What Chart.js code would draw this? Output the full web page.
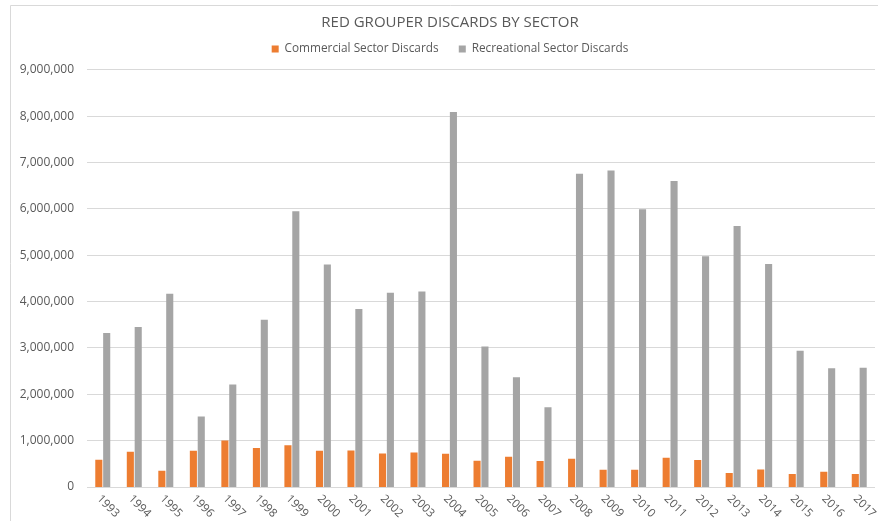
<!DOCTYPE html>
<html>
<head>
<meta charset="utf-8">
<script src="https://cdn.jsdelivr.net/npm/chart.js@4.4.1/dist/chart.umd.min.js"></script>
<style>
  html, body { margin: 0; padding: 0; background: #fff; overflow: hidden; }
  #wrap { position: relative; width: 890px; height: 521px; }
</style>
</head>
<body>
<div id="wrap"><canvas id="myChart"></canvas></div>
<script>
const years = ['1993','1994','1995','1996','1997','1998','1999','2000','2001','2002','2003','2004','2005',
  '2006','2007','2008','2009','2010','2011','2012','2013','2014','2015','2016','2017'];

const commercial = [590000, 760000, 350000, 780000, 1005000, 840000, 900000, 780000, 790000, 720000, 745000, 717000, 565000,
  650000, 560000, 610000, 370000, 370000, 630000, 580000, 300000, 375000, 280000, 330000, 280000];

const recreational = [3320000, 3450000, 4170000, 1520000, 2210000, 3610000, 5950000, 4800000, 3840000, 4190000, 4220000, 8090000, 3030000,
  2370000, 1720000, 6760000, 6830000, 5990000, 6600000, 4980000, 5630000, 4810000, 2940000, 2560000, 2570000];

const yTicks = [0, 1000000, 2000000, 3000000, 4000000, 5000000, 6000000, 7000000, 8000000, 9000000];

const textGrey = '#595959';
const fontFam = '"Open Sans", Lato, sans-serif';

// excel style slanted year labels (down-right) + chart frame
const yearLabels = {
  id: 'yearLabels',
  afterDraw(chart) {
    const ctx = chart.ctx;
    const xs = chart.scales.x;
    const bottom = chart.chartArea.bottom;
    ctx.save();
    ctx.fillStyle = textGrey;
    ctx.font = '11.5px ' + fontFam;
    ctx.textAlign = 'left';
    ctx.textBaseline = 'middle';
    years.forEach((y, i) => {
      const x = xs.getPixelForValue(i);
      ctx.save();
      ctx.translate(x - 4, bottom + 10);
      ctx.rotate(Math.PI / 4);
      ctx.fillText(y, 0, 0);
      ctx.restore();
    });
    // frame
    ctx.strokeStyle = '#d9d9d9';
    ctx.lineWidth = 1;
    ctx.beginPath();
    ctx.moveTo(10.5, 521);
    ctx.lineTo(10.5, 5.5);
    ctx.lineTo(890, 5.5);
    ctx.stroke();
    ctx.restore();
  }
};

const data = {
  labels: years,
  datasets: [
    {
      label: 'Commercial Sector Discards   ',
      data: commercial,
      backgroundColor: '#ED7D31',
      categoryPercentage: 0.5,
      barPercentage: 0.9
    },
    {
      label: 'Recreational Sector Discards',
      data: recreational,
      backgroundColor: '#A5A5A5',
      categoryPercentage: 0.5,
      barPercentage: 0.9
    }
  ]
};

const config = {
  type: 'bar',
  data: data,
  options: {
    responsive: true,
    maintainAspectRatio: false,
    animation: false,
    layout: { padding: { left: 10, right: 0, top: 4, bottom: 26 } },
    scales: {
      x: {
        grid: { display: false },
        border: { display: false },
        ticks: { display: false }
      },
      // empty strip above the plot, keeps the gap under the legend
      xTop: {
        type: 'category',
        position: 'top',
        grid: { display: false },
        border: { display: false },
        ticks: { display: false },
        afterFit: (s) => { s.height = 5; }
      },
      // empty strip right of the plot (chart box runs past the window)
      yRight: {
        type: 'linear',
        position: 'right',
        grid: { display: false },
        border: { display: false },
        ticks: { display: false },
        afterFit: (s) => { s.width = 15; }
      },
      y: {
        min: 0,
        max: 9000000,
        afterBuildTicks: (scale) => { scale.ticks = yTicks.map(v => ({ value: v })); },
        afterFit: (s) => { s.width = 77; },
        grid: { color: '#d9d9d9', drawTicks: false },
        border: { display: false },
        ticks: {
          color: textGrey,
          padding: 13,
          font: { family: fontFam, size: 12 },
          callback: (v) => v.toLocaleString('en-US')
        }
      }
    },
    plugins: {
      title: {
        display: true,
        text: 'RED GROUPER DISCARDS BY SECTOR',
        color: textGrey,
        font: { family: fontFam, size: 15, weight: 'normal' },
        padding: { top: 10, bottom: 0 }
      },
      legend: {
        display: true,
        labels: {
          color: textGrey,
          boxWidth: 7,
          boxHeight: 7,
          padding: 11,
          font: { family: fontFam, size: 11.8 }
        }
      },
      tooltip: { enabled: false }
    }
  },
  plugins: [yearLabels]
};

const myChart = new Chart(document.getElementById('myChart'), config);
</script>
</body>
</html>
